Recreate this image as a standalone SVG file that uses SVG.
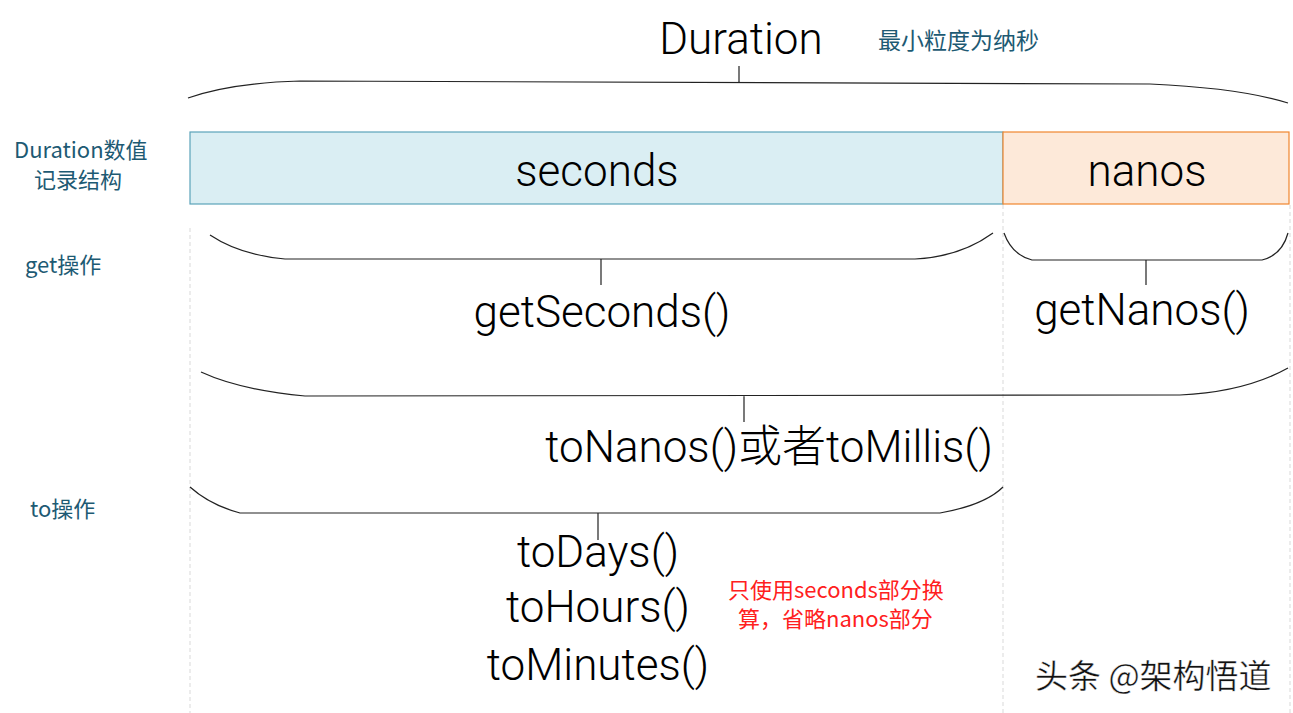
<svg xmlns="http://www.w3.org/2000/svg" width="1293" height="713" viewBox="0 0 1293 713">
<style>
.big{font-family:Roboto,"Noto Sans CJK SC","Liberation Sans",sans-serif;font-weight:300;font-size:44px;fill:#000;text-anchor:middle}
.lbl{font-family:"Noto Sans CJK SC","Liberation Sans",sans-serif;font-size:22px;fill:#1d5a73}
.note{font-family:"Noto Sans CJK SC","Liberation Sans",sans-serif;font-size:22px;fill:#ff2020}
.brace{fill:none;stroke:#222;stroke-width:1.2}
.guide{stroke:#d9d9d9;stroke-width:1;stroke-dasharray:4 3}
</style>
<g id="guides">
<line class="guide" x1="190" y1="228" x2="190" y2="713"/>
<line class="guide" x1="1003" y1="205" x2="1003" y2="713"/>
<line class="guide" x1="1290" y1="205" x2="1290" y2="713"/>
</g>
<g id="title">
<text class="big" x="741" y="54">Duration</text>
<text class="lbl" x="878" y="49" style="font-size:23px">最小粒度为纳秒</text>
</g>
<g id="labels">
<text class="lbl" x="14" y="158">Duration数值</text>
<text class="lbl" x="34" y="188">记录结构</text>
<text class="lbl" x="25" y="273">get操作</text>
<text class="lbl" x="30" y="517">to操作</text>
</g>
<g id="seconds">
<rect x="190" y="132" width="813" height="72" fill="#daeef3" stroke="#5ba3b9" stroke-width="1.2"/>
<text class="big" x="597" y="186">seconds</text>
</g>
<g id="nanos">
<rect x="1003" y="132" width="286" height="72" fill="#fde9d9" stroke="#f0862e" stroke-width="1.2"/>
<text class="big" x="1147" y="186">nanos</text>
</g>
<g id="connectors">
<path class="brace" d="M188,98 Q230,83 300,81 L1150,84 Q1240,88 1288,103 M739,66 V82"/>
<path class="brace" d="M210,235 Q240,255 285,259 L915,259 Q960,257 993,233 M601,259 V285"/>
<path class="brace" d="M1004,233 Q1012,255 1032,260 L1262,260 Q1282,255 1288,233 M1146,260 V285"/>
<path class="brace" d="M201,372 Q240,390 305,396 L1180,395 Q1245,392 1288,368 M744,395 V422"/>
<path class="brace" d="M190,487 Q210,505 240,513 L940,513 Q985,505 1003,487 M598,513 V540"/>
</g>
<g id="get-ops">
<text class="big" x="602" y="327">getSeconds()</text>
<text class="big" x="1142" y="325">getNanos()</text>
</g>
<g id="to-ops">
<text class="big" x="769" y="462">toNanos()或者toMillis()</text>
<text class="big" x="598" y="567">toDays()</text>
<text class="big" x="598" y="622">toHours()</text>
<text class="big" x="598" y="680">toMinutes()</text>
</g>
<g id="note">
<text class="note" x="728" y="598">只使用seconds部分换</text>
<text class="note" x="738" y="627">算，省略nanos部分</text>
</g>
<g id="watermark">
<text x="1035" y="688" font-family="Noto Sans CJK SC,sans-serif" font-size="33" fill="#111" stroke="#fff" stroke-width="0.4">头条 @架构悟道</text>
</g>
</svg>
